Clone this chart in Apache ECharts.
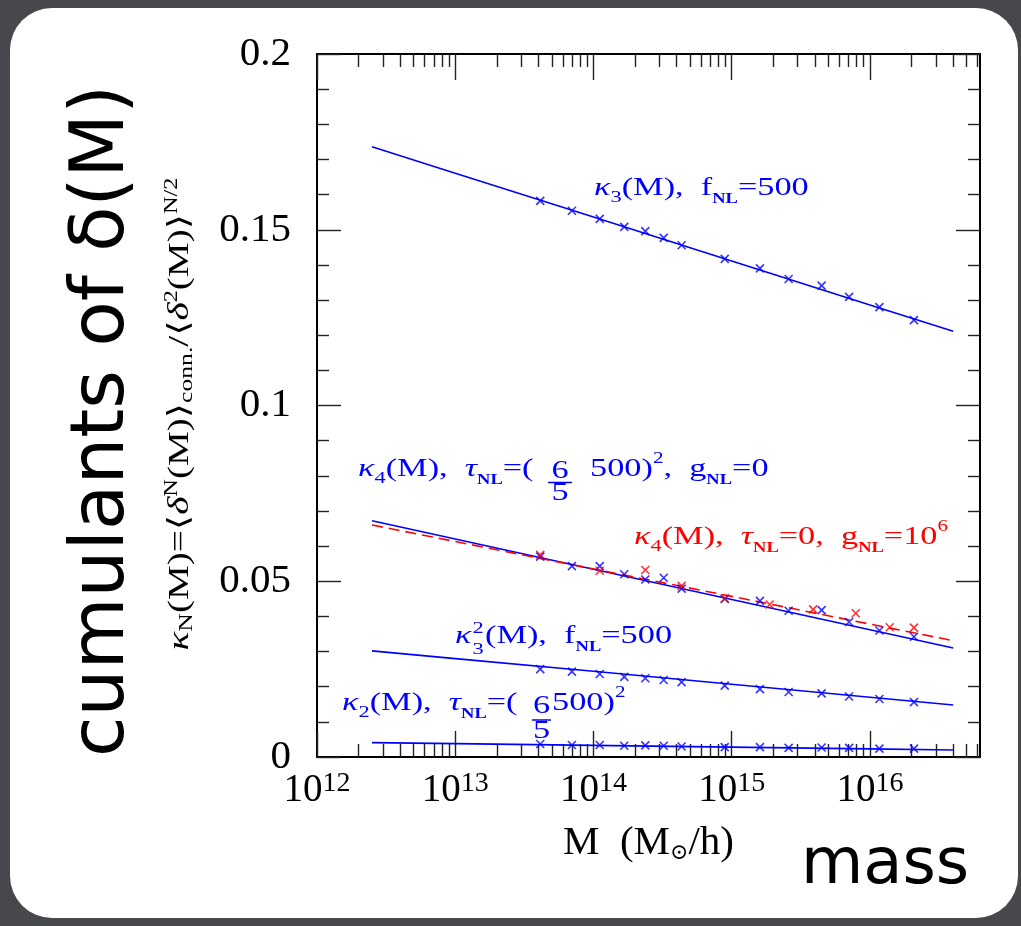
<!DOCTYPE html>
<html><head><meta charset="utf-8">
<script src="https://cdn.jsdelivr.net/npm/echarts@6/dist/echarts.min.js"></script>
<style>html,body{margin:0;padding:0;background:#46484b;} #c{width:1021px;height:926px;}</style>
</head><body><div id="c"></div>
<script>
// ---- data ----
const massPoints = [4.12e13, 6.98e13, 1.11e14, 1.67e14, 2.37e14, 3.22e14, 4.34e14, 8.9e14, 1.60e15, 2.58e15, 4.47e15, 7.06e15, 1.17e16, 2.08e16];
const lineMass = [2.5e12, 1e13, 1e14, 1e15, 1e16, 4e16];
const k3Line = [0.1736, 0.1661, 0.1536, 0.1411, 0.1286, 0.1211];
const k3Pts = [0.1582, 0.1554, 0.1531, 0.1508, 0.1496, 0.1477, 0.1456, 0.1417, 0.1390, 0.1360, 0.1341, 0.1309, 0.1280, 0.1243];
const k4Line = [0.0672, 0.0620, 0.0534, 0.0448, 0.0362, 0.0310];
const k4Pts = [0.0570, 0.0543, 0.0543, 0.0520, 0.0505, 0.0510, 0.0479, 0.0450, 0.0444, 0.0416, 0.0418, 0.0384, 0.0360, 0.0342];
const k4gLine = [0.0660, 0.0613, 0.0535, 0.0457, 0.0378, 0.0331];
const k4gMass = [4.12e13, 1.11e14, 2.37e14, 4.34e14, 8.9e14, 1.88e15, 3.88e15, 7.89e15, 1.39e16, 2.08e16];
const k4gPts = [0.0575, 0.0530, 0.0532, 0.0487, 0.0451, 0.0434, 0.0420, 0.0409, 0.0369, 0.0368];
const k33Line = [0.0302, 0.0280, 0.0244, 0.0207, 0.0170, 0.0148];
const k33Pts = [0.0250, 0.0243, 0.0236, 0.0228, 0.0224, 0.0219, 0.0213, 0.0203, 0.0193, 0.0185, 0.0181, 0.0172, 0.0165, 0.0156];
const k2Line = [0.0041, 0.0038, 0.0033, 0.0028, 0.0023, 0.0020];
const k2Pts = [0.0037, 0.0034, 0.0034, 0.0032, 0.0033, 0.0032, 0.0030, 0.0028, 0.0028, 0.0026, 0.0027, 0.0026, 0.0024, 0.0024];
const xDecades = [12, 13, 14, 15, 16];
const xMin = 1e12, xMax = 6.25e16;
const yMin = 0, yMax = 0.2, yStep = 0.05;

// ---- helpers ----
const BLUE = '#0000ff', RED = '#ff0000';
const SERIF = '"Liberation Serif", "DejaVu Serif", serif';
const SX = 1.32;
const zip = (xs, ys) => xs.map((x, i) => [x, ys[i]]);
const majorX = xDecades.map(d => Math.pow(10, d));
const minorX = [];
xDecades.forEach(d => { for (let k = 2; k <= 9; k++) { const v = k * Math.pow(10, d); if (v < xMax) minorX.push(v); } });
const CROSS = 'path://M0,0L10,10M10,0L0,10';
const TICK = { color: '#222', width: 1.4 };

function lineSeries(name, ys, color, dashed) {
  return { name, type: 'line', data: zip(lineMass, ys), showSymbol: false, symbol: 'none', silent: true,
    lineStyle: { color, width: 1.6, type: dashed ? [11, 6] : 'solid' }, z: 3 };
}
function crossSeries(name, xs, ys, color) {
  return { name, type: 'scatter', data: zip(xs, ys), symbol: CROSS, symbolSize: 8, silent: true,
    itemStyle: { color: 'rgba(0,0,0,0)', borderColor: color, borderWidth: 1.6 }, z: 4 };
}
function richFor(color, size, lh) {
  lh = lh || 36;
  const sub = Math.round(size * 0.62);
  return {
    n: { fontFamily: SERIF, fontSize: size, lineHeight: lh, fill: color },
    i: { fontFamily: SERIF, fontSize: size, lineHeight: lh, fontStyle: 'italic', fill: color },
    s: { fontFamily: SERIF, fontSize: Math.round(size * 0.66), lineHeight: 18, verticalAlign: 'bottom', fill: color },
    b: { fontFamily: SERIF, fontSize: Math.round(size * 0.55), fontWeight: 'bold', lineHeight: 17, verticalAlign: 'bottom', fill: color },
    p: { fontFamily: SERIF, fontSize: sub, lineHeight: 18, verticalAlign: 'top', fill: color }
  };
}
function ann(x, baseline, text, color, size) {
  return { type: 'text', x, y: baseline - 27, z: 10, scaleX: SX,
    style: { text, rich: richFor(color, size), align: 'left', verticalAlign: 'top' } };
}
function plain(x, y, text, color, size) {
  return { type: 'text', x, y, z: 10, scaleX: SX,
    style: { text, font: size + 'px ' + SERIF, fill: color, align: 'center', verticalAlign: 'middle' } };
}
function bar(x1, x2, y, color) {
  return { type: 'line', z: 10, shape: { x1, y1: y, x2, y2: y }, style: { stroke: color, lineWidth: 1.5 } };
}
function xAxisOf(position, values, len, withLine, withLabel) {
  const ax = {
    type: 'log', logBase: 10, min: xMin, max: xMax, position, gridIndex: 0,
    axisLine: { show: withLine, lineStyle: { color: '#000', width: 2 } },
    splitLine: { show: false },
    axisTick: { show: true, inside: true, length: len, customValues: values, lineStyle: TICK },
    axisLabel: { show: false }
  };
  if (withLabel) {
    ax.axisLabel = { show: true, margin: 13, customValues: values,
      formatter: v => '{b|10}{s|' + Math.round(Math.log10(v)) + '}',
      rich: {
        b: { fontFamily: SERIF, fontSize: 39, lineHeight: 42, color: '#000' },
        s: { fontFamily: SERIF, fontSize: 28, lineHeight: 28, verticalAlign: 'top', color: '#000' }
      } };
    ax.name = 'M  (M{o|⊙}/h)';
    ax.nameLocation = 'middle';
    ax.nameGap = 66;
    ax.nameTextStyle = { fontFamily: SERIF, fontSize: 41, color: '#000',
      rich: { o: { fontFamily: '"DejaVu Serif", serif', fontSize: 22, lineHeight: 24, verticalAlign: 'bottom', color: '#000' } } };
  }
  return ax;
}
function yAxisOf(position, withLabel) {
  const ax = {
    type: 'value', min: yMin, max: yMax, interval: yStep, position,
    axisLine: { show: true, lineStyle: { color: '#000', width: 2 } },
    splitLine: { show: false }, minorSplitLine: { show: false },
    axisTick: { show: true, inside: true, length: 24, lineStyle: TICK },
    minorTick: { show: true, splitNumber: 5, length: 12, lineStyle: TICK },
    axisLabel: { show: false }
  };
  if (withLabel) {
    ax.axisLabel = { show: true, margin: 26, fontFamily: SERIF, fontSize: 41, color: '#000',
      formatter: v => String(+v.toFixed(2)) };
  }
  return ax;
}

const chart = echarts.init(document.getElementById('c'), null, { renderer: 'canvas' });
const option = {
  backgroundColor: '#46484b',
  animation: false,
  grid: { left: 317, top: 54, width: 663, height: 703, containLabel: false },
  xAxis: [
    xAxisOf('bottom', majorX, 26, true, true),
    xAxisOf('bottom', minorX, 13, false, false),
    xAxisOf('top', majorX, 26, true, false),
    xAxisOf('top', minorX, 13, false, false)
  ],
  yAxis: [yAxisOf('left', true), yAxisOf('right', false)],
  series: [
    lineSeries('kappa3 line', k3Line, BLUE),
    crossSeries('kappa3', massPoints, k3Pts, BLUE),
    lineSeries('kappa4 tau line', k4Line, BLUE),
    crossSeries('kappa4 tau', massPoints, k4Pts, BLUE),
    lineSeries('kappa4 g line', k4gLine, RED, true),
    crossSeries('kappa4 g', k4gMass, k4gPts, RED),
    lineSeries('kappa3^2 line', k33Line, BLUE),
    crossSeries('kappa3^2', massPoints, k33Pts, BLUE),
    lineSeries('kappa2 line', k2Line, BLUE),
    crossSeries('kappa2', massPoints, k2Pts, BLUE)
  ],
  graphic: [
    { type: 'rect', z: -10, shape: { x: 10, y: 8, width: 1008, height: 910, r: 42 }, style: { fill: '#ffffff' } },
    { type: 'text', x: 104, y: 421, rotation: Math.PI / 2, z: 10,
      style: { text: 'cumulants of δ(M)', font: '74px "DejaVu Sans", sans-serif', fill: '#000', align: 'center', verticalAlign: 'middle' } },
    { type: 'text', x: 885, y: 866, z: 10,
      style: { text: 'mass', font: '64px "DejaVu Sans", sans-serif', fill: '#000', align: 'center', verticalAlign: 'middle' } },
    // y-axis title
    { type: 'text', x: 180, y: 414, rotation: Math.PI / 2, scaleX: 1.35, z: 10,
      style: { text: '{i|κ}{s|N}{n|(M)=⟨}{i|δ}{p|N}{n|(M)⟩}{s|conn.}{n|/⟨}{i|δ}{p|2}{n|(M)⟩}{p|N/2}',
        rich: richFor('#000', 29, 34), align: 'center', verticalAlign: 'middle' } },
    // kappa3 label
    ann(594, 197, '{i|κ}{s|3}{n|(M),  f}{b|NL}{n|=500}', BLUE, 26),
    // kappa4 tau label
    ann(358, 478, '{i|κ}{s|4}{n|(M),  }{i|τ}{b|NL}{n|=(}', BLUE, 26),
    plain(560, 471, '6', BLUE, 26), bar(548, 572, 482.5, BLUE), plain(560, 493, '5', BLUE, 26),
    ann(590, 478, '{n|500)}{p|2}{n|,  g}{b|NL}{n|=0}', BLUE, 26),
    // kappa4 g label
    ann(634, 546, '{i|κ}{s|4}{n|(M),  }{i|τ}{b|NL}{n|=0,  g}{b|NL}{n|=10}{p|6}', RED, 26),
    // kappa3^2 label
    ann(455, 645, '{i|κ}', BLUE, 26),
    plain(478, 629, '2', BLUE, 17), plain(478, 650, '3', BLUE, 17),
    ann(485, 645, '{n|(M),  f}{b|NL}{n|=500}', BLUE, 26),
    // kappa2 label
    ann(342, 712, '{i|κ}{s|2}{n|(M),  }{i|τ}{b|NL}{n|=(}', BLUE, 26),
    plain(541.5, 706, '6', BLUE, 26), bar(532, 551, 720, BLUE), plain(541.5, 731, '5', BLUE, 26),
    ann(552, 712, '{n|500)}{p|2}', BLUE, 26)
  ]
};
chart.setOption(option);
</script>
</body></html>
